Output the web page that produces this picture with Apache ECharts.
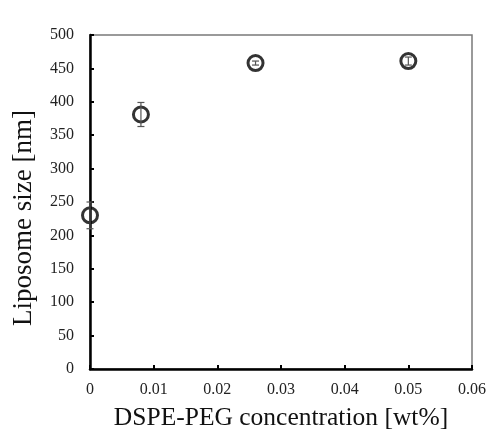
<!DOCTYPE html>
<html>
<head>
<meta charset="utf-8">
<script src="https://cdn.jsdelivr.net/npm/echarts@6/dist/echarts.min.js"></script>
<style>
  html, body { margin: 0; padding: 0; background: #fff; }
  #chart { width: 497px; height: 441px; }
</style>
</head>
<body>
<div id="chart"></div>
<script>
// DSPE-PEG concentration (wt%) vs. liposome size (nm), mean ± error
const concentration = [0, 0.008, 0.026, 0.050];
const liposomeSize  = [230, 381, 458, 461];
const sizeError     = [20, 18, 3, 6];

const xTickLabels = ['0', '0.01', '0.02', '0.03', '0.04', '0.05', '0.06'];
const yTickLabels = ['0', '50', '100', '150', '200', '250', '300', '350', '400', '450', '500'];

const points = concentration.map((c, i) => [c, liposomeSize[i]]);
const errors = concentration.map((c, i) => [c, liposomeSize[i] - sizeError[i], liposomeSize[i] + sizeError[i]]);

const serif = '"Liberation Serif", "Times New Roman", serif';

const chart = echarts.init(document.getElementById('chart'), null, { renderer: 'canvas' });

chart.setOption({
  animation: false,
  backgroundColor: '#fff',
  grid: {
    left: 90, right: 25, top: 35, bottom: 72,
    show: true,
    borderColor: '#7a7a7a',
    borderWidth: 1.5,
    backgroundColor: 'transparent'
  },
  xAxis: {
    type: 'value',
    min: 0, max: 0.06, interval: 0.01,
    name: 'DSPE-PEG concentration [wt%]',
    nameLocation: 'middle',
    nameGap: 36,
    nameTextStyle: { fontFamily: serif, fontSize: 25.5, color: '#111' },
    axisLine: { show: true, onZero: false, lineStyle: { color: '#000', width: 2.5 } },
    axisTick: { show: true, inside: true, length: 4, lineStyle: { color: '#000', width: 2 } },
    axisLabel: {
      fontFamily: serif, fontSize: 16, color: '#222', margin: 13,
      formatter: v => xTickLabels[Math.round(v / 0.01)]
    },
    splitLine: { show: false }
  },
  yAxis: {
    type: 'value',
    min: 0, max: 500, interval: 50,
    name: 'Liposome size [nm]',
    nameLocation: 'middle',
    nameGap: 53,
    nameTextStyle: { fontFamily: serif, fontSize: 27, color: '#111', padding: [0, 0, 0, -32] },
    axisLine: { show: true, onZero: false, lineStyle: { color: '#000', width: 2.5 } },
    axisTick: { show: true, inside: true, length: 4, lineStyle: { color: '#000', width: 2 } },
    axisLabel: {
      fontFamily: serif, fontSize: 16, color: '#222', margin: 16,
      formatter: v => yTickLabels[Math.round(v / 50)]
    },
    splitLine: { show: false }
  },
  series: [
    {
      type: 'scatter',
      data: points,
      symbol: 'circle',
      symbolSize: 15,
      clip: false,
      itemStyle: { color: 'rgba(255,255,255,0)', borderColor: '#000', borderWidth: 3 },
      z: 3
    },
    {
      type: 'custom',
      data: errors,
      clip: false,
      z: 4,
      renderItem: (params, api) => {
        const x = api.value(0);
        const lo = api.coord([x, api.value(1)]);
        const hi = api.coord([x, api.value(2)]);
        const cap = 3.5;
        const style = { stroke: '#555', lineWidth: 1.2 };
        return {
          type: 'group',
          children: [
            { type: 'line', shape: { x1: lo[0], y1: lo[1], x2: hi[0], y2: hi[1] }, style },
            { type: 'line', shape: { x1: lo[0] - cap, y1: lo[1], x2: lo[0] + cap, y2: lo[1] }, style },
            { type: 'line', shape: { x1: hi[0] - cap, y1: hi[1], x2: hi[0] + cap, y2: hi[1] }, style }
          ]
        };
      }
    }
  ]
});
</script>
</body>
</html>
